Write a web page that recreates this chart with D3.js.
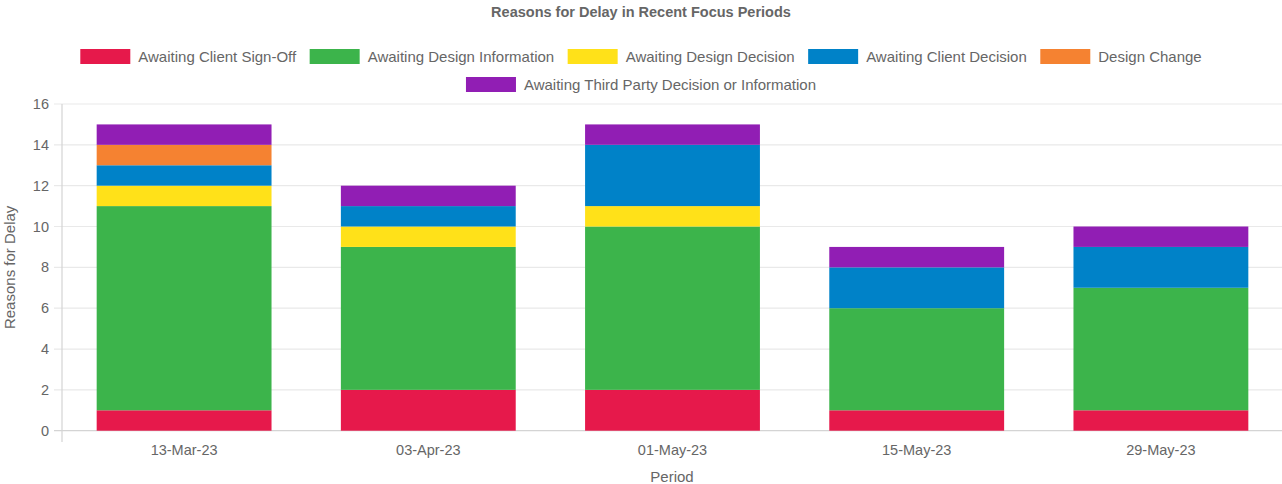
<!DOCTYPE html>
<html>
<head>
<meta charset="utf-8">
<script src="https://cdn.jsdelivr.net/npm/d3@7"></script>
<style>
	body { margin: 0; background: #fff; overflow: hidden; }
	svg { display: block; font-family: "Liberation Sans", Arial, sans-serif; }
</style>
</head>
<body>
<svg width="1282" height="484"></svg>
<script>

var periods = ["13-Mar-23", "03-Apr-23", "01-May-23", "15-May-23", "29-May-23"];

var reasons = [
	"Awaiting Client Sign-Off",
	"Awaiting Design Information",
	"Awaiting Design Decision",
	"Awaiting Client Decision",
	"Design Change",
	"Awaiting Third Party Decision or Information"
];

var colors = ["#e6194b", "#3cb44b", "#ffe119", "#0082c8", "#f58231", "#911eb4"];

// one array per reason, in period order
var clientSignOff = [1, 2, 2, 1, 1];
var designInformation = [10, 7, 8, 5, 6];
var designDecision = [1, 1, 1, 0, 0];
var clientDecision = [1, 1, 3, 2, 2];
var designChange = [1, 0, 0, 0, 0];
var thirdParty = [1, 1, 1, 1, 1];

var yTicks = [0, 2, 4, 6, 8, 10, 12, 14, 16];

var series = [clientSignOff, designInformation, designDecision, clientDecision, designChange, thirdParty];

var svg = d3.select("svg"),
width = +svg.attr("width"),
height = +svg.attr("height");

var rows = periods.map(function(p, i) {
	var row = { period: p };
	for (var k = 0; k < reasons.length; k++) {
		row[reasons[k]] = series[k][i];
	}
	return row;
});

var stacked = d3.stack().keys(reasons)(rows);

var x = d3.scaleBand()
.domain(periods)
.range([62, 1283])
.paddingInner(0.284)
.paddingOuter(0.142);

var y = d3.scaleLinear()
.domain([0, 16])
.range([430.7, 104]);

//title
svg.append("text")
.attr("x", 641)
.attr("y", 17)
.attr("text-anchor", "middle")
.attr("font-size", 14.5)
.attr("font-weight", "bold")
.attr("fill", "#666")
.text("Reasons for Delay in Recent Focus Periods");

//grid lines
svg.append("g")
.selectAll("line")
.data(yTicks)
.enter().append("line")
.attr("x1", 54)
.attr("x2", width)
.attr("y1", function(d) { return y(d); })
.attr("y2", function(d) { return y(d); })
.attr("stroke", function(d) { return d == 0 ? "#d4d4d4" : "#e9e9e9"; })
.attr("stroke-width", 1.2);

//y axis
var yAxis = svg.append("g")
.attr("transform", "translate(62,0)")
.call(d3.axisLeft(y).tickValues(yTicks).tickSize(8).tickPadding(5));

yAxis.select(".domain").remove();
yAxis.selectAll(".tick line").remove();
yAxis.selectAll("text")
.attr("font-size", 14.5)
.attr("font-family", "Liberation Sans, Arial, sans-serif")
.attr("fill", "#666");

svg.append("line")
.attr("x1", 62)
.attr("x2", 62)
.attr("y1", 104)
.attr("y2", 442)
.attr("stroke", "#d4d4d4")
.attr("stroke-width", 1.2);

//x axis labels
var xAxis = svg.append("g")
.attr("transform", "translate(0," + y(0) + ")")
.call(d3.axisBottom(x).tickSize(0).tickPadding(14));

xAxis.select(".domain").remove();
xAxis.selectAll("text")
.attr("font-size", 14.5)
.attr("font-family", "Liberation Sans, Arial, sans-serif")
.attr("fill", "#666");

//axis titles
svg.append("text")
.attr("transform", "translate(15," + ((y(0) + y(16)) / 2) + ") rotate(-90)")
.attr("text-anchor", "middle")
.attr("font-size", 15)
.attr("fill", "#666")
.text("Reasons for Delay");

svg.append("text")
.attr("x", 672)
.attr("y", 482)
.attr("text-anchor", "middle")
.attr("font-size", 15)
.attr("fill", "#666")
.text("Period");

//bars
svg.append("g")
.selectAll("g")
.data(stacked)
.enter().append("g")
.attr("fill", function(d, i) { return colors[i]; })
.selectAll("rect")
.data(function(d) { return d; })
.enter().append("rect")
.attr("x", function(d) { return x(d.data.period); })
.attr("width", x.bandwidth())
.attr("y", function(d) { return y(d[1]); })
.attr("height", function(d) { return y(d[0]) - y(d[1]); });

//legend, wrapped into centred rows
var boxW = 50, boxH = 15, gap = 8, spacing = 13.5, rowH = 28;

var legend = svg.append("g");

var items = reasons.map(function(r, i) {
	var t = legend.append("text")
	.attr("font-size", 15)
	.attr("fill", "#666")
	.text(r);
	return { name: r, color: colors[i], label: t, w: boxW + gap + t.node().getComputedTextLength() };
});

var lines = [[]], lineW = [0];
for (var i = 0; i < items.length; i++) {
	var l = lines.length - 1;
	var add = (lines[l].length ? spacing : 0) + items[i].w;
	if (lineW[l] + add > width - 60) {
		lines.push([items[i]]);
		lineW.push(items[i].w);
	} else {
		lines[l].push(items[i]);
		lineW[l] += add;
	}
}

for (var l = 0; l < lines.length; l++) {
	var cx = 641 - lineW[l] / 2;
	var cy = 56.5 + l * rowH;
	for (var j = 0; j < lines[l].length; j++) {
		var it = lines[l][j];
		legend.append("rect")
		.attr("x", cx)
		.attr("y", cy - boxH / 2)
		.attr("width", boxW)
		.attr("height", boxH)
		.attr("fill", it.color);
		it.label
		.attr("x", cx + boxW + gap)
		.attr("y", cy + 5.5);
		cx += it.w + spacing;
	}
}

</script>
</body>
</html>
